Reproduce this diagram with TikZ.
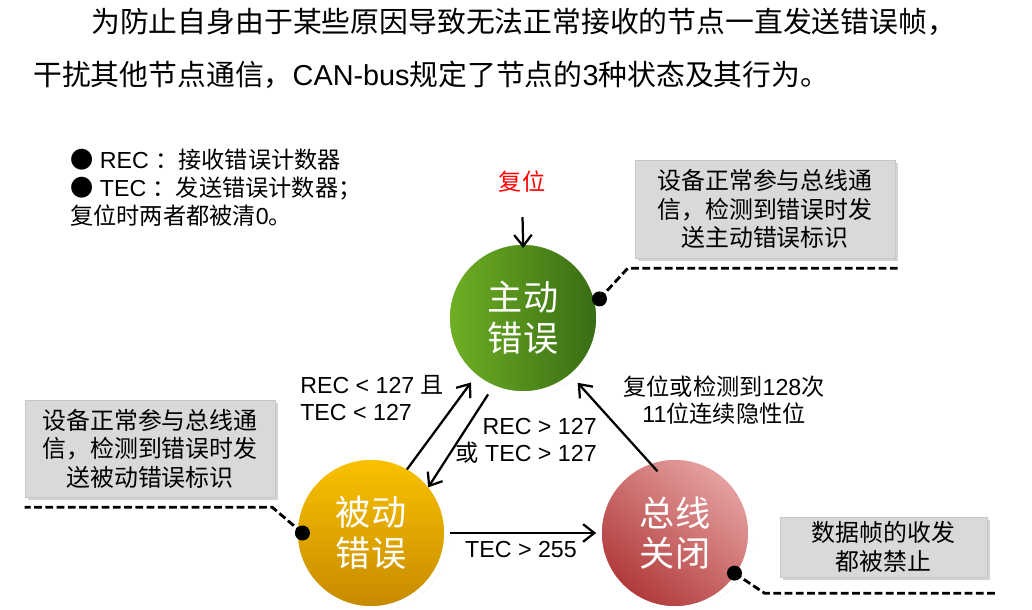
\documentclass[tikz,border=0pt]{standalone}
\usepackage{fontspec}
\setmainfont{Liberation Sans}
\newfontfamily\zhfont{Noto Sans CJK SC}
\newcommand{\zh}[1]{{\zhfont #1}}
\usetikzlibrary{arrows.meta,shadows,calc}

\definecolor{activeL}{RGB}{112,176,36}
\definecolor{activeR}{RGB}{54,108,20}
\definecolor{passiveT}{RGB}{250,194,0}
\definecolor{passiveB}{RGB}{198,138,0}
\definecolor{busoffT}{RGB}{230,162,162}
\definecolor{busoffB}{RGB}{176,56,56}

\tikzset{
  statecircle/.style={circle, minimum size=3.8cm, inner sep=0pt, draw=white, line width=4pt,
    text=white, align=center, font=\fontsize{25}{29}\selectfont\zhfont,
    drop shadow={shadow xshift=1.5pt, shadow yshift=-1.5pt, opacity=0.3}},
  notebox/.style={fill=black!15, draw=black!22, inner sep=0pt, align=center,
    font=\fontsize{17}{20.3}\selectfont\zhfont,
    drop shadow={shadow xshift=2pt, shadow yshift=-2pt, opacity=0.35}},
  cond/.style={inner sep=0pt, font=\fontsize{16.5}{19.5}\selectfont},
  arr/.style={->, line width=1.6pt},
  link/.style={line width=2pt, dash pattern=on 5.5pt off 2.5pt},
}

\begin{document}
\begin{tikzpicture}[x=0.025cm, y=-0.025cm, >={Straight Barb[length=8pt,width=12.5pt,line width=1.6pt]}]
    \useasboundingbox (0,0) rectangle (1032,610);

    % =================================================================
    % 1. 三种状态的圆心
    % =================================================================
    \coordinate (A) at (523,318);
    \coordinate (P) at (371,533);
    \coordinate (O) at (675,533);

    % =================================================================
    % 2. 标题与说明文字
    % =================================================================
    \node[anchor=west, inner sep=0pt, font=\fontsize{20.5}{24}\selectfont] (title1) at (91,22)
        {\zh{为防止自身由于某些原因导致无法正常接收的节点一直发送错误帧，}};
    \node[anchor=west, inner sep=0pt, font=\fontsize{20.5}{24}\selectfont] (title2) at (33,75)
        {\zh{干扰其他节点通信，}CAN-bus\zh{规定了节点的}3\zh{种状态及其行为。}};

    \node[anchor=west, align=left, inner sep=0pt, font=\fontsize{16.5}{20}\selectfont] (legend) at (70,188)
        {\zh{●} REC \zh{：接收错误计数器}\\\zh{●} TEC \zh{：发送错误计数器；}\\\zh{复位时两者都被清}0\zh{。}};

    % =================================================================
    % 3. 三种状态
    % =================================================================
    \node[statecircle, left color=activeL, right color=activeR] (active) at (A) {主动\\错误};
    \node[statecircle, top color=passiveT, bottom color=passiveB] (passive) at (P) {被动\\错误};
    \node[statecircle, shading=axis, top color=busoffT, bottom color=busoffB, shading angle=-40] (busoff) at (O) {总线\\关闭};

    % =================================================================
    % 4. 状态之间的转换
    % =================================================================
    \node[inner sep=0pt, text=red, font=\fontsize{16.5}{20}\selectfont\zhfont] (reset) at (522,182) {复位};
    \draw[arr, shorten <=0.6cm, shorten >=-0.22cm] (reset.south) -- (active.north);

    \draw[arr, shorten <=-0.15cm, shorten >=0.1cm] (passive.60) -- (active.231);
    \draw[arr, shorten <=0.13cm, shorten >=-0.15cm] (active.246) -- (passive.40);
    \draw[arr, shorten <=-0.4cm, shorten >=0.15cm] (busoff.111) -- (active.310);
    \draw[arr] (passive.east) -- (busoff.west);

    \node[cond, anchor=west, align=left] (upcond) at (300,398) {REC < 127 \zh{且}\\TEC < 127};
    \node[cond, anchor=east, align=right] (downcond) at (597,441) {REC > 127\\\zh{或} TEC > 127};
    \node[cond, align=center] (recover) at (724,400) {\zh{复位或检测到}128\zh{次}\\11\zh{位连续隐性位}};
    \node[cond] (offcond) at (521,550) {TEC > 255};

    % =================================================================
    % 5. 各状态的行为说明
    % =================================================================
    \node[notebox, minimum width=6.5cm, minimum height=2.45cm] (activebox) at (765,209)
        {设备正常参与总线通\\信，检测到错误时发\\送主动错误标识};
    \node[notebox, minimum width=6.25cm, minimum height=2.425cm] (passivebox) at (150,448.5)
        {设备正常参与总线通\\信，检测到错误时发\\送被动错误标识};
    \node[notebox, minimum width=5.175cm, minimum height=1.5cm] (busoffbox) at (883.5,547)
        {数据帧的收发\\都被禁止};

    \coordinate (activedot) at (active.14);
    \coordinate (passivedot) at ($(passive.center)!0.87!(passive.west)$);
    \coordinate (busoffdot) at ($(busoff.center)!0.91!(busoff.-34)$);

    \draw[link] (activedot) -- ([shift={(-7,10)}]activebox.south west) -- ([shift={(5,10)}]activebox.south east);
    \draw[link] (passivedot) -- ([shift={(-3,10)}]passivebox.south east) -- ([shift={(0,10)}]passivebox.south west);
    \draw[link] (busoffdot) -- ([shift={(-15,16)}]busoffbox.south west) -- ([shift={(11,16)}]busoffbox.south east);

    \fill (activedot) circle[radius=7.5];
    \fill (passivedot) circle[radius=7.5];
    \fill (busoffdot) circle[radius=7.5];

\end{tikzpicture}
\end{document}
